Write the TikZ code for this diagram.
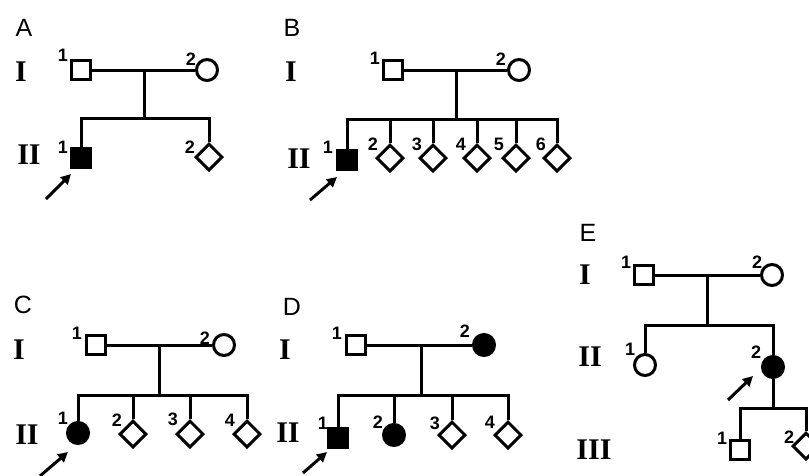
\documentclass[tikz,border=0pt]{standalone}
\usepackage{fontspec}
\setmainfont{Liberation Sans}
\newfontfamily\romfont{Liberation Serif}
\usetikzlibrary{shapes.geometric,arrows.meta}
\begin{document}
\begin{tikzpicture}[x=1pt,y=-1pt,
  lw/.style={line width=3pt},
  sq/.style={draw,lw,rectangle,minimum size=19pt,inner sep=0pt},
  sqf/.style={sq,fill=black},
  ci/.style={draw,lw,circle,minimum size=21pt,inner sep=0pt},
  cif/.style={ci,fill=black},
  dm/.style={draw,lw,diamond,aspect=1,minimum size=27pt,inner sep=0pt},
  ln/.style={lw},
  arr/.style={line width=3pt,-{Triangle[length=10pt,width=10pt]}},
  panel/.style={font=\fontsize{25}{25}\selectfont,inner sep=0pt},
  gen/.style={font=\romfont\bfseries\fontsize{30}{30}\selectfont,inner sep=0pt},
  num/.style={font=\bfseries\fontsize{18}{18}\selectfont,inner sep=0pt}
]
\useasboundingbox (0,0) rectangle (809,475);

% ---------- Panel A ----------
\node[panel] (pA) at (24,28) {A};
\node[gen] (gAI) at (21,72) {I};
\node[gen] (gAII) at (29,155) {II};
\node[sq] (aI1) at (81,70) {};
\node[ci] (aI2) at (207,70) {};
\node[sqf] (aII1) at (81,158) {};
\node[dm] (aII2) at (209,157) {};
\coordinate (am) at (144,70);
\coordinate (as) at (144,118);
\draw[ln] (aI1) -- (aI2);
\draw[ln] (am) -- (as);
\draw[ln] (aII1.north) |- (as) -| (aII2.north);
\node[num] (naI1) at (63,55) {1};
\node[num] (naI2) at (191,59) {2};
\node[num] (naII1) at (63,147) {1};
\node[num] (naII2) at (190,147) {2};
\coordinate (atA0) at (46,199);
\coordinate (atA1) at (71,174);
\draw[arr] (atA0) -- (atA1);

% ---------- Panel B ----------
\node[panel] (pB) at (292,28) {B};
\node[gen] (gBI) at (291,72) {I};
\node[gen] (gBII) at (299,159) {II};
\node[sq] (bI1) at (393,70) {};
\node[ci] (bI2) at (519,70) {};
\node[sqf] (bII1) at (347,160) {};
\node[dm] (bII2) at (390,158) {};
\node[dm] (bII3) at (433,158) {};
\node[dm] (bII4) at (477,158) {};
\node[dm] (bII5) at (516,158) {};
\node[dm] (bII6) at (557,158) {};
\coordinate (bm) at (456,70);
\coordinate (bs) at (456,119);
\draw[ln] (bI1) -- (bI2);
\draw[ln] (bm) -- (bs);
\draw[ln] (bII1.north) |- (bs) -| (bII6.north);
\foreach \k in {2,3,4,5} {\draw[ln] (bII\k.north) -- (bII\k.north |- bs);}
\node[num] (nbI1) at (375,58) {1};
\node[num] (nbI2) at (501,59) {2};
\node[num] (nbII1) at (328,147) {1};
\node[num] (nbII2) at (373,144) {2};
\node[num] (nbII3) at (417,144) {3};
\node[num] (nbII4) at (461,144) {4};
\node[num] (nbII5) at (499,144) {5};
\node[num] (nbII6) at (541,144) {6};
\coordinate (atB0) at (310,200);
\coordinate (atB1) at (337,177);
\draw[arr] (atB0) -- (atB1);

% ---------- Panel C ----------
\node[panel] (pC) at (23,305) {C};
\node[gen] (gCI) at (19,350) {I};
\node[gen] (gCII) at (27,435) {II};
\node[sq] (cI1) at (96,345) {};
\node[ci] (cI2) at (224,345) {};
\node[cif] (cII1) at (78,433) {};
\node[dm] (cII2) at (133,434) {};
\node[dm] (cII3) at (190,434) {};
\node[dm] (cII4) at (247,434) {};
\coordinate (cm) at (159,345);
\coordinate (cs) at (159,395);
\draw[ln] (cI1) -- (cI2);
\draw[ln] (cm) -- (cs);
\draw[ln] (cII1.north) |- (cs) -| (cII4.north);
\foreach \k in {2,3} {\draw[ln] (cII\k.north) -- (cII\k.north |- cs);}
\node[num] (ncI1) at (77,333) {1};
\node[num] (ncI2) at (205,338) {2};
\node[num] (ncII1) at (63,418) {1};
\node[num] (ncII2) at (117,420) {2};
\node[num] (ncII3) at (173,419) {3};
\node[num] (ncII4) at (230,420) {4};
\coordinate (atC0) at (40,476);
\coordinate (atC1) at (68,452);
\draw[arr] (atC0) -- (atC1);

% ---------- Panel D ----------
\node[panel] (pD) at (292,307) {D};
\node[gen] (gDI) at (285,350) {I};
\node[gen] (gDII) at (288,433) {II};
\node[sq] (dI1) at (356,345) {};
\node[cif] (dI2) at (484,345) {};
\node[sqf] (dII1) at (338,438) {};
\node[cif] (dII2) at (394,435) {};
\node[dm] (dII3) at (452,435) {};
\node[dm] (dII4) at (508,435) {};
\coordinate (dm) at (421,345);
\coordinate (ds) at (421,395);
\draw[ln] (dI1) -- (dI2);
\draw[ln] (dm) -- (ds);
\draw[ln] (dII1.north) |- (ds) -| (dII4.north);
\foreach \k in {2,3} {\draw[ln] (dII\k.north) -- (dII\k.north |- ds);}
\node[num] (ndI1) at (337,333) {1};
\node[num] (ndI2) at (465,331) {2};
\node[num] (ndII1) at (323,423) {1};
\node[num] (ndII2) at (378,422) {2};
\node[num] (ndII3) at (435,423) {3};
\node[num] (ndII4) at (490,422) {4};
\coordinate (atD0) at (303,473);
\coordinate (atD1) at (327,452);
\draw[arr] (atD0) -- (atD1);

% ---------- Panel E ----------
\node[panel] (pE) at (588,233) {E};
\node[gen] (gEI) at (585,275) {I};
\node[gen] (gEII) at (590,357) {II};
\node[gen] (gEIII) at (594,450) {III};
\node[sq] (eI1) at (644,275) {};
\node[ci] (eI2) at (772,275) {};
\node[ci] (eII1) at (645,365) {};
\node[cif] (eII2) at (773,367) {};
\node[sq] (eIII1) at (740,450) {};
\node[dm] (eIII2) at (806,446) {};
\coordinate (em) at (707,275);
\coordinate (es) at (707,325);
\coordinate (es2) at (773,408);
\draw[ln] (eI1) -- (eI2);
\draw[ln] (em) -- (es);
\draw[ln] (eII1.north) |- (es) -| (eII2.north);
\draw[ln] (eII2.south) -- (es2);
\draw[ln] (eIII1.north) |- (es2) -| (eIII2.north);
\node[num] (neI1) at (626,262) {1};
\node[num] (neI2) at (757,262) {2};
\node[num] (neII1) at (630,349) {1};
\node[num] (neII2) at (756,352) {2};
\node[num] (neIII1) at (722,438) {1};
\node[num] (neIII2) at (789,437) {2};
\coordinate (atE0) at (728,400);
\coordinate (atE1) at (753,376);
\draw[arr] (atE0) -- (atE1);
\end{tikzpicture}
\end{document}
